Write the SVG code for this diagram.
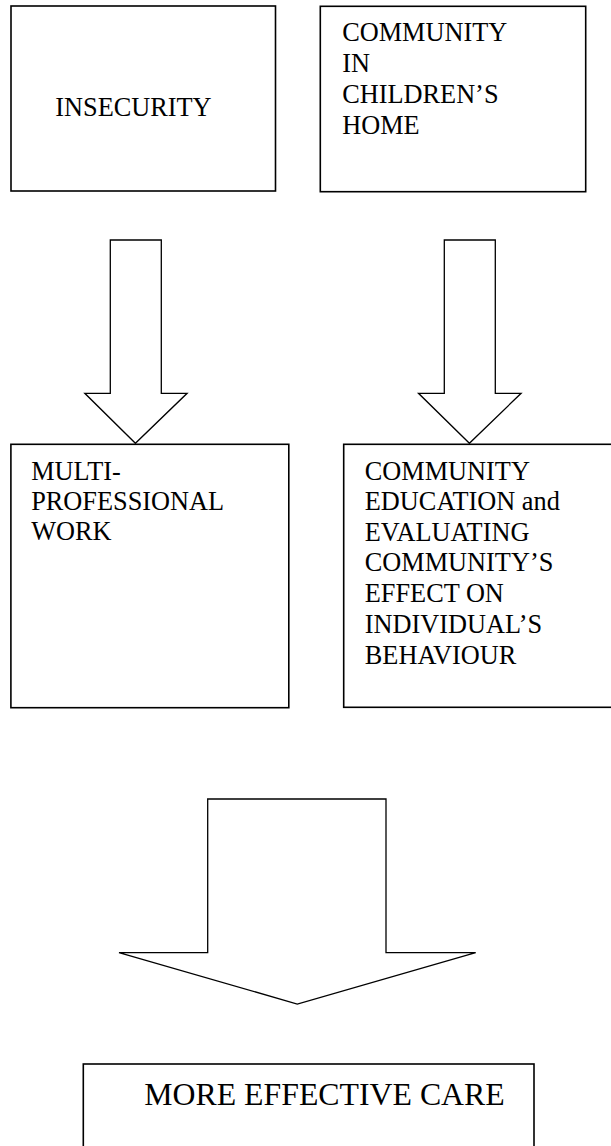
<svg xmlns="http://www.w3.org/2000/svg" width="611" height="1146" viewBox="0 0 611 1146">
<style>
.box{fill:#fff;stroke:#000;stroke-width:1.6}
.arr{fill:#fff;stroke:#000;stroke-width:1.3;stroke-linejoin:miter}
text{font-family:'Liberation Serif','Times New Roman','DejaVu Serif',serif;fill:#000}
.t{font-size:26.3px}
.tb{font-size:31.8px}
</style>
<rect width="611" height="1146" fill="#fff"/>
<g id="connectors">
<polygon class="arr" points="110.3,240 161.3,240 161.3,393.3 187.1,393.3 135.4,443.3 84.8,393.3 110.3,393.3"/>
<polygon class="arr" points="444.3,240 495.3,240 495.3,393.3 521.1,393.3 469.4,443.3 418.5,393.3 444.3,393.3"/>
<polygon class="arr" points="207.7,799 386,799 386,952.7 475.7,952.7 297.3,1004 119,952.7 207.7,952.7"/>
</g>
<g id="insecurity">
<rect class="box" x="11" y="6" width="264.5" height="185"/>
<text class="t" x="55.3" y="116">INSECURITY</text>
</g>
<g id="community">
<rect class="box" x="320.3" y="6.3" width="265.4" height="185.4"/>
<text class="t" x="342.2" y="40.7">COMMUNITY</text>
<text class="t" x="342.2" y="72.3">IN</text>
<text class="t" x="342.2" y="103.3">CHILDREN’S</text>
<text class="t" x="342.2" y="134.3">HOME</text>
</g>
<g id="multi">
<rect class="box" x="10.9" y="444.3" width="277.9" height="263.4"/>
<text class="t" x="31.2" y="480">MULTI-</text>
<text class="t" x="31.2" y="510">PROFESSIONAL</text>
<text class="t" x="31.2" y="540">WORK</text>
</g>
<g id="education">
<rect class="box" x="343.7" y="444.3" width="300" height="263"/>
<text class="t" x="364.8" y="480">COMMUNITY</text>
<text class="t" x="364.8" y="510">EDUCATION and</text>
<text class="t" x="364.8" y="540.5">EVALUATING</text>
<text class="t" x="364.8" y="571">COMMUNITY’S</text>
<text class="t" x="364.8" y="601.7">EFFECT ON</text>
<text class="t" x="364.8" y="632.7">INDIVIDUAL’S</text>
<text class="t" x="364.8" y="664">BEHAVIOUR</text>
</g>
<g id="care">
<rect class="box" x="83.3" y="1064" width="450.7" height="120"/>
<text class="tb" x="144.3" y="1105">MORE EFFECTIVE CARE</text>
</g>
</svg>
